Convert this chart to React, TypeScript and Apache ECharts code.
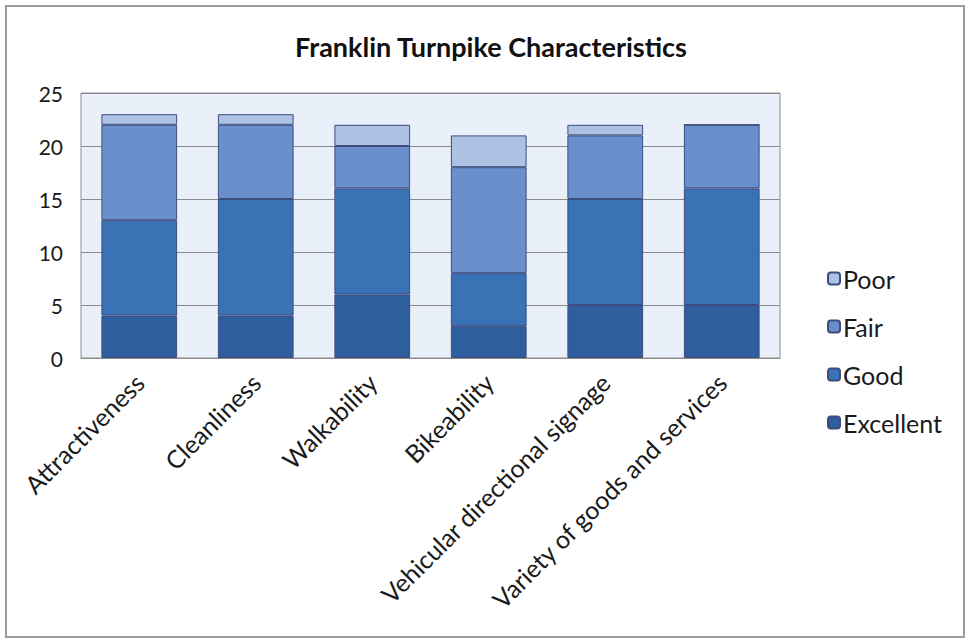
import React, { useEffect, useRef } from "react";
import * as echarts from "echarts";

const categories = [
  "Attractiveness",
  "Cleanliness",
  "Walkability",
  "Bikeability",
  "Vehicular directional signage",
  "Variety of goods and services",
];
const excellent = [4, 4, 6, 3, 5, 5];
const good = [9, 11, 10, 5, 10, 11];
const fair = [9, 7, 4, 10, 6, 6];
const poor = [1, 1, 2, 3, 1, 0];
const yTicks = [0, 5, 10, 15, 20, 25];

const FONT = "Lato, 'Open Sans', sans-serif";

export default function App() {
  const ref = useRef<HTMLDivElement>(null);
  useEffect(() => {
    document.body.style.margin = "0";
    if (!ref.current) return;
    const chart = echarts.init(ref.current, undefined, { renderer: "svg" });
    const border = "#3d4d7e";
    const mk = (name: string, data: number[], color: string) => ({
      name,
      type: "bar",
      stack: "total",
      data,
      barWidth: "65%",
      itemStyle: { color, borderColor: border, borderWidth: 1 },
    });
    chart.setOption({
      animation: false,
      backgroundColor: "#ffffff",
      title: {
        text: "Franklin Turnpike Characteristics",
        left: 486,
        textAlign: "center",
        top: 28,
        textStyle: { fontFamily: FONT, fontSize: 27, fontWeight: "bold", color: "#111" },
      },
      graphic: [
        {
          type: "rect",
          shape: { x: 6, y: 6, width: 958, height: 631 },
          style: { fill: "none", stroke: "#a09a98", lineWidth: 2 },
          silent: true,
          z: 100,
        },
      ],
      legend: {
        orient: "vertical",
        left: 822,
        top: 261,
        itemGap: 23,
        itemWidth: 12,
        itemHeight: 12,
        data: ["Poor", "Fair", "Good", "Excellent"],
        textStyle: {
          fontFamily: FONT,
          fontSize: 25,
          lineHeight: 25,
          color: "#1a1a1a",
          padding: [0, 0, 0, -2],
        },
      },
      grid: {
        left: 81,
        right: 189,
        top: 93,
        bottom: 283,
        show: true,
        backgroundColor: "#eaf0f9",
        borderColor: "#8c8c8c",
        borderWidth: 1,
      },
      xAxis: {
        type: "category",
        data: categories,
        axisTick: { show: false },
        axisLine: { lineStyle: { color: "#8c8c8c" } },
        axisLabel: {
          rotate: 45,
          interval: 0,
          margin: 20,
          fontFamily: FONT,
          fontSize: 25,
          color: "#1a1a1a",
        },
      },
      yAxis: {
        type: "value",
        min: yTicks[0],
        max: yTicks[yTicks.length - 1],
        interval: 5,
        axisLine: { show: false },
        axisTick: { show: false },
        splitLine: { lineStyle: { color: "#8a8a8a", width: 1 } },
        axisLabel: { fontFamily: FONT, fontSize: 21, color: "#1a1a1a", margin: 18 },
      },
      series: [
        mk("Excellent", excellent, "#2f5e9e"),
        mk("Good", good, "#3a72b6"),
        mk("Fair", fair, "#6990cc"),
        mk("Poor", poor, "#adc1e3"),
      ],
    });
    return () => chart.dispose();
  }, []);
  return <div ref={ref} style={{ width: 969, height: 641 }} />;
}
